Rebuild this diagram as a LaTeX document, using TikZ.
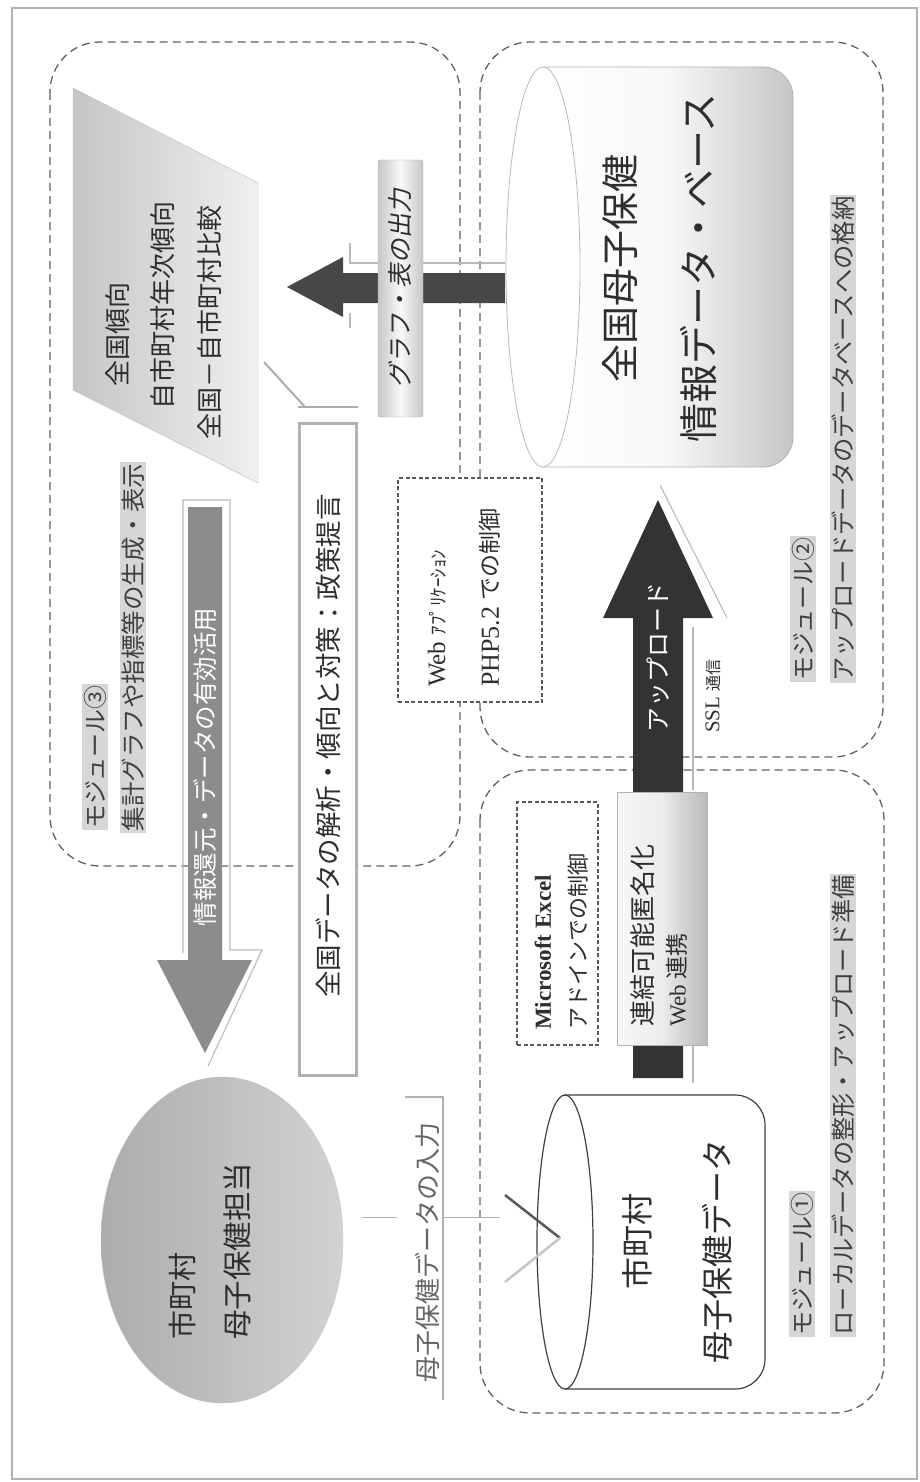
\documentclass[tikz,border=0pt]{standalone}
\usepackage{fontspec}
\setmainfont{Liberation Serif}
\newfontfamily\jp{Noto Sans CJK JP}
\newfontfamily\jpsl[FakeSlant=0.18]{Noto Sans CJK JP}
\newcommand\fsz[1]{\fontsize{#1}{#1}\selectfont}
\usetikzlibrary{shapes.geometric}
\begin{document}
\begin{tikzpicture}[x=1pt,y=1pt,
  txt/.style={rotate=90, inner sep=0pt, text=black!82},
  modbox/.style={draw=black!62, line width=1.3pt, dash pattern=on 8pt off 5pt, rounded corners=50pt},
  sbox/.style={draw=black!65, line width=1.1pt, dash pattern=on 4pt off 2.5pt, fill=white, inner sep=0pt},
  modlab/.style={rotate=90, fill=gray!32, inner sep=1.5pt, text=black!75},
  outl/.style={draw=gray!55, line width=1.1pt}]
\useasboundingbox (0,0) rectangle (919,-1482);
\draw[gray!60, line width=1.2pt] (12,-8) rectangle (917,-1479);

% modules
\draw[modbox] (50,-42) rectangle (460,-866);
\draw[modbox] (480,-42) rectangle (883,-757);
\draw[modbox] (480,-770) rectangle (884,-1413);

% display parallelogram
\path[draw=gray!55, left color=gray!45, right color=gray!12] (73,-88) -- (258,-183) -- (258,-483) -- (73,-390) -- cycle;
\node[txt, anchor=west, font=\jp\fsz{26}] (p1) at (118,-387) {全国傾向};
\node[txt, anchor=west, font=\jp\fsz{26}] (p2) at (163,-410) {自市町村年次傾向};
\node[txt, anchor=west, font=\jp\fsz{26}] (p3) at (210,-440) {全国－自市町村比較};

% callout connector
\coordinate (cA) at (264,-362);
\coordinate (cB) at (305,-407);
\coordinate (cC) at (298,-407);
\coordinate (cD) at (358,-407);
\draw[gray!65, line width=2pt] (cA) -- (cB);
\draw[gray!65, line width=2pt] (cC) -- (cD);

% output arrow
\draw[outl] (350,-243) -- (350,-263) -- (505,-263);
\draw[outl] (350,-313) -- (350,-328);
\fill[black!72] (505,-273) -- (343,-273) -- (343,-257) -- (287,-287) -- (343,-317) -- (343,-303) -- (505,-303) -- cycle;
\node[draw=gray!60, rounded corners=2pt, left color=gray!45, right color=gray!45, middle color=gray!5, minimum width=45, minimum height=257, inner sep=0pt] (gbox) at (400.5,-288.5) {};
\node[txt, font=\jpsl\fsz{25}] (glab) at (400,-288) {グラフ・表の出力};

% national database
\path[draw=gray!60, line width=0.8pt, left color=white, right color=gray!45, middle color=gray!6] (543,-67) -- (763,-67) arc[start angle=90,end angle=0,radius=30] -- (793,-437) arc[start angle=0,end angle=-90,radius=30] -- (543,-467) -- cycle;
\draw[gray!55, fill=white, line width=0.8pt] (543,-267) ellipse[x radius=37, y radius=200];
\node[txt, font=\jp\fsz{38}] (db1) at (620,-268) {全国母子保健};
\node[txt, font=\jp\fsz{39}] (db2) at (698,-268) {情報データ・ベース};

% analysis box
\node[draw=gray!60, line width=3pt, fill=white, minimum width=57, minimum height=652, inner sep=0pt] (anbox) at (328,-749.5) {};
\node[txt, font=\jp\fsz{26.5}] (antext) at (328,-746) {全国データの解析・傾向と対策：政策提言};

% web application box
\node[sbox, minimum width=144, minimum height=224] (webbox) at (470,-590) {};
\node[txt, anchor=west] (web1) at (437,-687) {\fsz{25}Web {\jp\fsz{19}ｱﾌﾟﾘｹｰｼｮﾝ}};
\node[txt, anchor=west] (web2) at (490,-687) {\fsz{26}PHP5.2 {\jp\fsz{23}での制御}};

% feedback arrow
\draw[outl] (183,-953) -- (183,-500) -- (230,-500) -- (230,-950) -- (262,-950) -- (208,-1066);
\fill[black!45] (188,-507) -- (222,-507) -- (222,-960) -- (252,-960) -- (205,-1053) -- (157,-960) -- (188,-960) -- cycle;
\node[txt, text=white, font=\jp\fsz{24.5}] (ret) at (205,-767) {情報還元・データの有効活用};

% upload arrow
\draw[outl] (660,-485) -- (727,-618);
\draw[outl] (693,-627) -- (693,-790);
\draw[outl] (693,-1045) -- (693,-1083);
\fill[black!80] (633,-1078) -- (633,-618) -- (603,-618) -- (658,-500) -- (713,-618) -- (683,-618) -- (683,-1078) -- cycle;
\node[txt, text=white, font=\jp\fsz{25}] (up) at (658,-657) {アップロード};
\node[txt, anchor=west] (ssl) at (713,-733) {\fsz{21}SSL {\jp\fsz{16}通信}};

% anonymisation box
\node[draw=gray!60, left color=gray!6, right color=gray!55, middle color=gray!15, minimum width=90, minimum height=253, inner sep=0pt] (anon) at (662,-918.5) {};
\node[txt, anchor=west, font=\jp\fsz{26}] (anon1) at (643,-1027) {連結可能匿名化};
\node[txt, anchor=west] (anon2) at (677,-1027) {\fsz{23}Web {\jp\fsz{23}連携}};

% excel box
\node[sbox, minimum width=81, minimum height=243] (xlbox) at (557.5,-923.5) {};
\node[txt, anchor=west] (xl1) at (543,-1030) {\bfseries\fsz{23}Microsoft Excel};
\node[txt, anchor=west, font=\jp\fsz{22}] (xl2) at (578,-1030) {アドインでの制御};

% local database
\path[draw=black!75, line width=1.2pt, fill=white] (565,-1095) -- (735,-1095) arc[start angle=90,end angle=0,radius=30] -- (765,-1359) arc[start angle=0,end angle=-90,radius=30] -- (565,-1389) -- cycle;
\draw[black!75, line width=1.2pt, fill=white] (565,-1242) ellipse[x radius=28, y radius=147];
\node[txt, font=\jp\fsz{32}] (ldb1) at (637,-1241) {市町村};
\node[txt, font=\jp\fsz{32}] (ldb2) at (717,-1251) {母子保健データ};

% municipality
\node[ellipse, draw=gray!50, left color=gray!65, right color=gray!35, minimum width=242, minimum height=326, inner sep=0pt] (muni) at (222,-1240) {};
\node[txt, anchor=west, font=\jp\fsz{29}] (m1) at (182,-1340) {市町村};
\node[txt, anchor=west, font=\jp\fsz{29.5}] (m2) at (237,-1340) {母子保健担当};

% input
\node[txt, anchor=west, text=black!60, font=\jp\fsz{26}] (inlab) at (428,-1383) {母子保健データの入力};
\draw[gray!60, line width=1.2pt] (405,-1097) -- (443,-1097) -- (443,-1400);
\coordinate (inA) at (362,-1217);
\coordinate (inB) at (397,-1217);
\coordinate (inC) at (442,-1217);
\coordinate (inD) at (500,-1217);
\coordinate (chA) at (505,-1195);
\coordinate (chT) at (560,-1238);
\coordinate (chB) at (505,-1282);
\draw[gray!60, line width=1pt] (inA) -- (inB);
\draw[gray!60, line width=1pt] (inC) -- (inD);
\draw[black!65, line width=2.5pt] (chA) -- (chT);
\draw[gray!45, line width=2.5pt] (chT) -- (chB);

% module labels
\node[modlab, anchor=west, font=\jp\fsz{24}] (mod3a) at (95,-830) {モジュール③};
\node[modlab, anchor=west, font=\jp\fsz{24.5}] (mod3b) at (133,-833) {集計グラフや指標等の生成・表示};
\node[modlab, anchor=west, font=\jp\fsz{24}] (mod2a) at (803,-682) {モジュール②};
\node[modlab, anchor=west, font=\jp\fsz{24.3}] (mod2b) at (843,-683) {アップロードデータのデータベースへの格納};
\node[modlab, anchor=west, font=\jp\fsz{24}] (mod1a) at (802,-1337) {モジュール①};
\node[modlab, anchor=west, font=\jp\fsz{24.2}] (mod1b) at (843,-1337) {ローカルデータの整形・アップロード準備};
\end{tikzpicture}
\end{document}
